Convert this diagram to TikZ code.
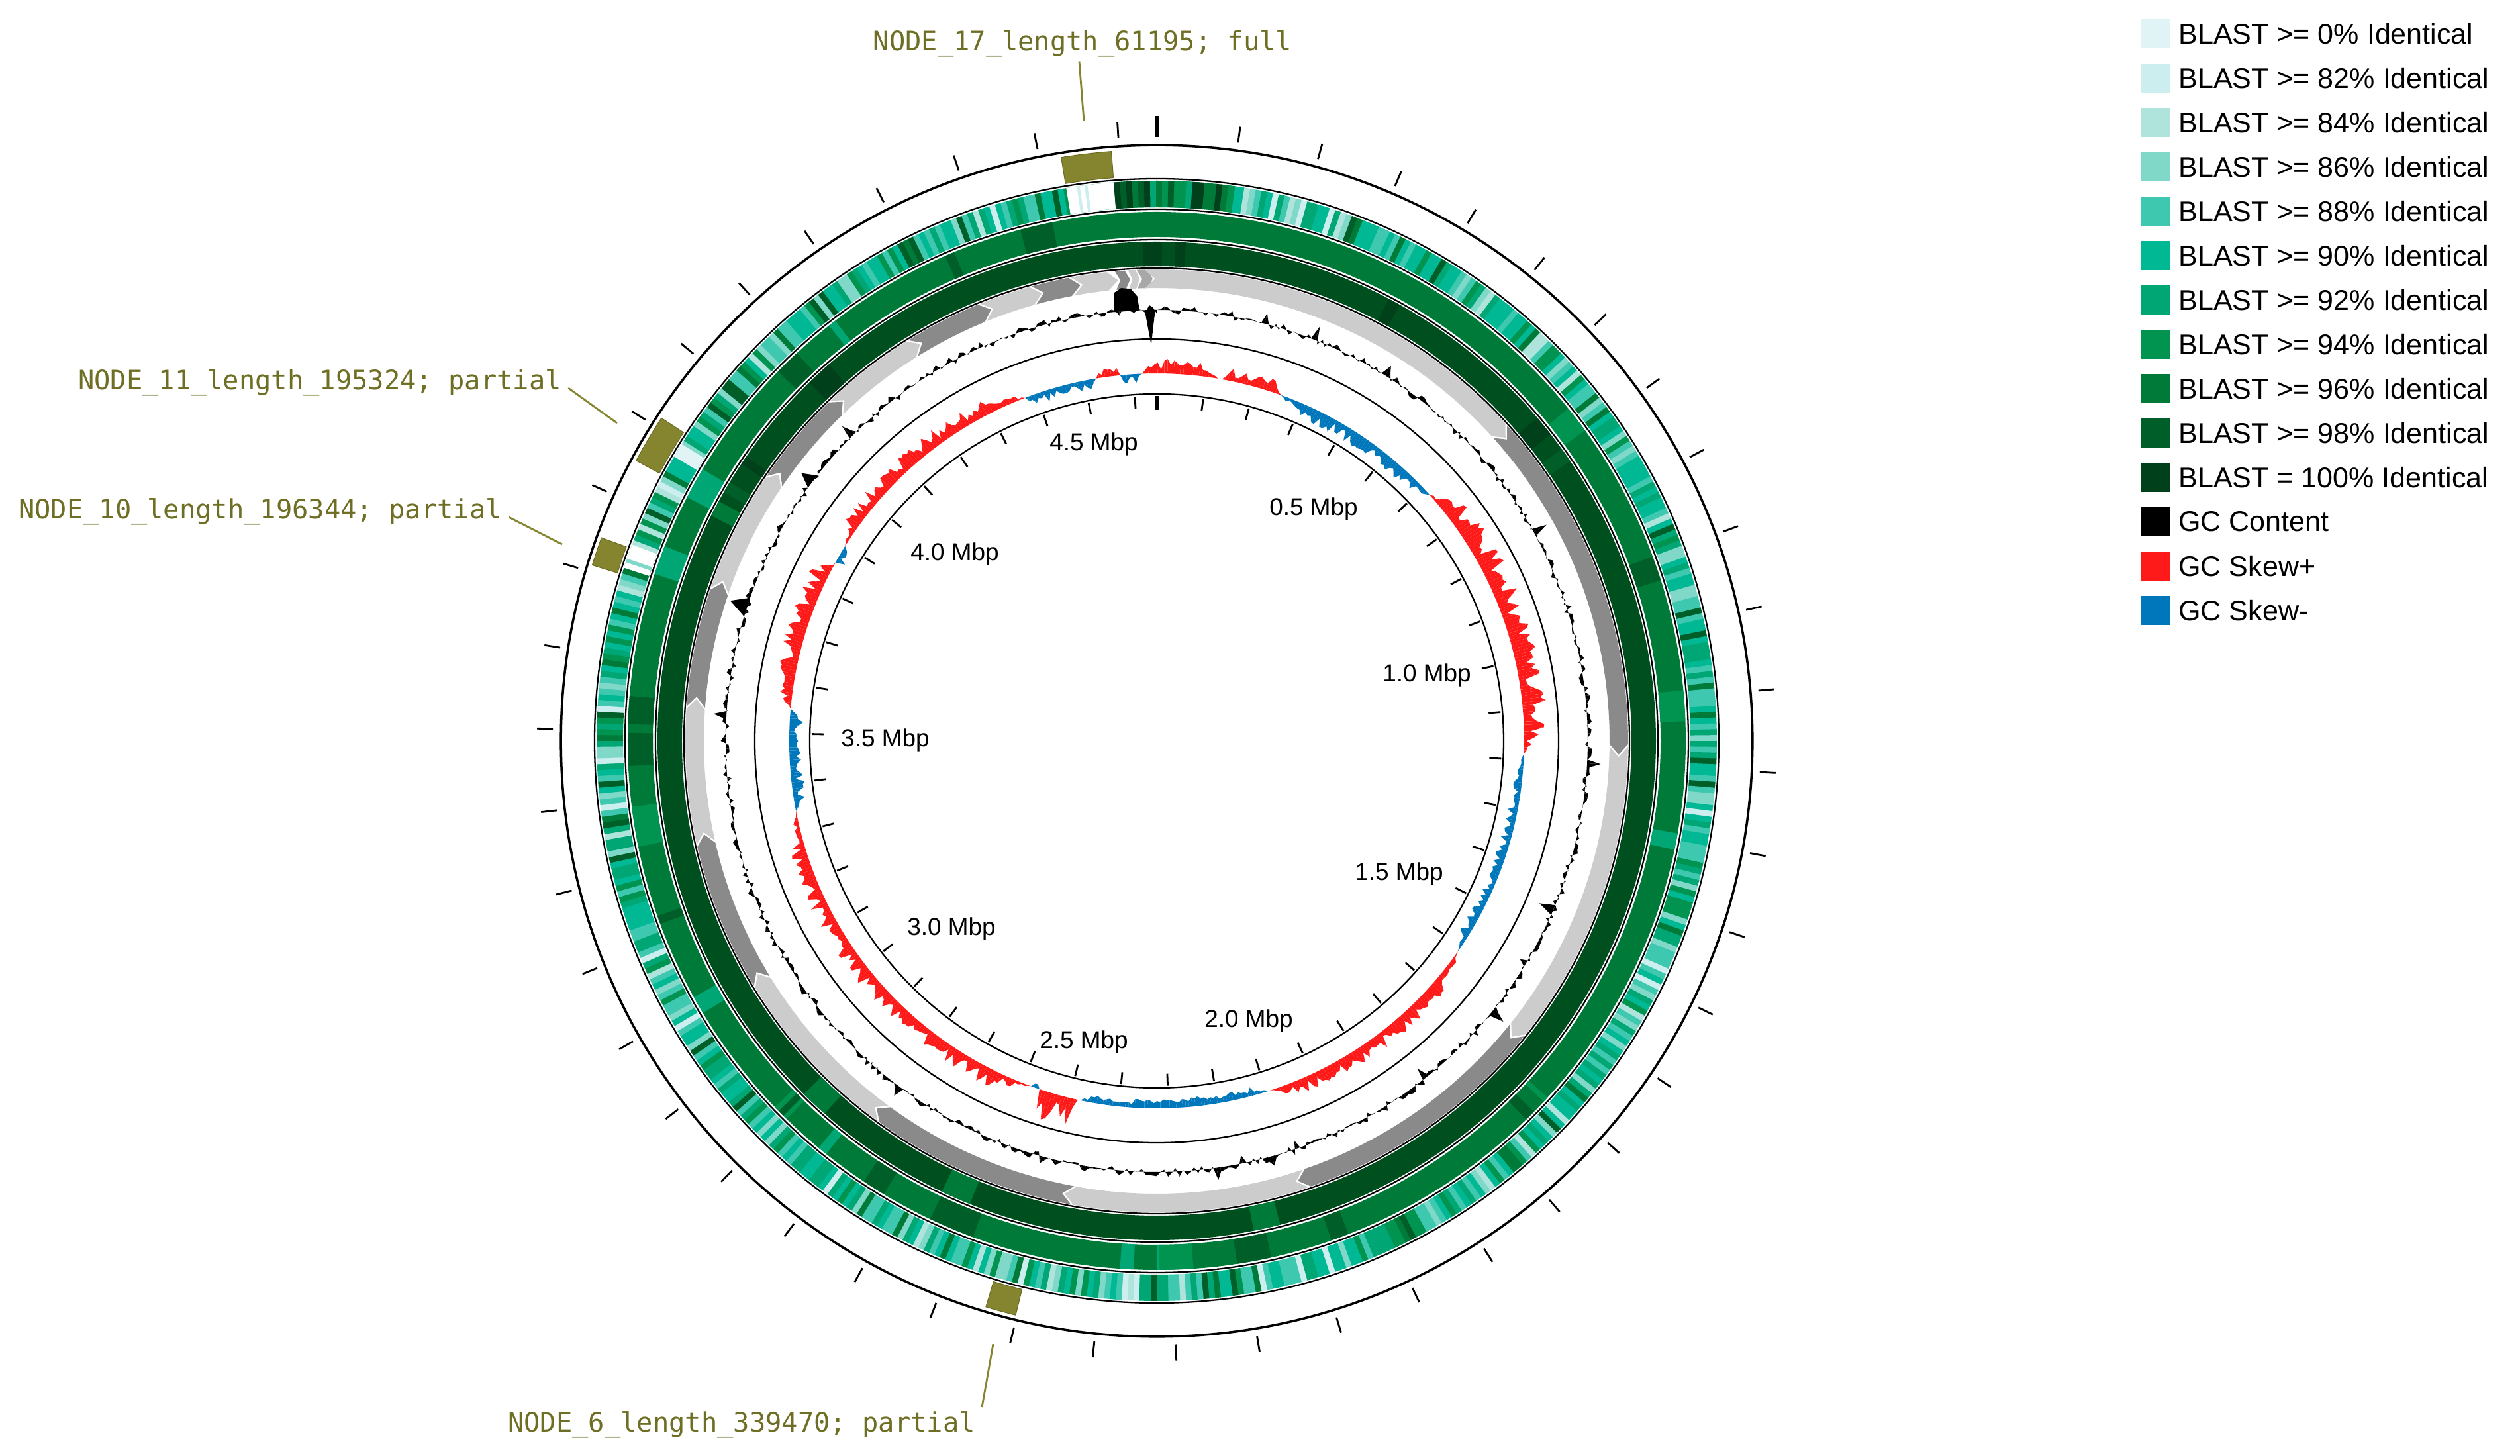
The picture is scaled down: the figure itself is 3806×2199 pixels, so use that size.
\documentclass[tikz,border=0pt]{standalone}
\usepackage{fontspec}
\setmainfont{Liberation Sans}
\newfontfamily\monof{DejaVu Sans Mono}
\definecolor{c0}{HTML}{E0F4F6}
\definecolor{c82}{HTML}{CDEEEE}
\definecolor{c84}{HTML}{AEE4DC}
\definecolor{c86}{HTML}{7FD8C8}
\definecolor{c88}{HTML}{3EC8B0}
\definecolor{c90}{HTML}{00B894}
\definecolor{c92}{HTML}{00A674}
\definecolor{c94}{HTML}{009450}
\definecolor{c96}{HTML}{007A38}
\definecolor{c98}{HTML}{005E28}
\definecolor{c100}{HTML}{00401A}
\definecolor{rthree}{HTML}{00501F}
\definecolor{skp}{HTML}{FF1A1A}
\definecolor{skm}{HTML}{0077BB}
\definecolor{olA}{HTML}{858530}
\definecolor{olB}{HTML}{6B6B22}
\definecolor{oltext}{HTML}{6E6E24}
\definecolor{glight}{HTML}{CCCCCC}
\definecolor{gdark}{HTML}{8A8A8A}
\definecolor{gmid}{HTML}{A8A8A8}
\newcommand\seg[5]{\path[#5] ({90-(#1)}:#4) arc[start angle={90-(#1)}, end angle={90-(#2)}, radius={#4*0.02cm}] -- ({90-(#2)}:#3) arc[start angle={90-(#2)}, end angle={90-(#1)}, radius={#3*0.02cm}] -- cycle;}
% gray arrow: clockwise from #1 to #2, tip at #2, notch at #1
\newcommand\garr[3]{%
 \pgfmathsetmacro\gtip{min(1.3,((#2)-(#1))*0.4)}%
 \pgfmathsetmacro\gsa{90-(#1)+\gtip-0.3}%
 \pgfmathsetmacro\gna{90-(#1)-0.3}%
 \pgfmathsetmacro\gea{90-(#2)+\gtip}%
 \pgfmathsetmacro\gpa{90-(#2)}%
 \fill[#3] (\gsa:712) arc[start angle=\gsa, end angle=\gea, radius=14.24cm] -- (\gpa:698) -- (\gea:684) arc[start angle=\gea, end angle=\gsa, radius=13.68cm] -- (\gna:698) -- cycle;}
\newcommand\gcskew[4]{%
 \pgfmathtruncatemacro\N{max(1,round(((#2)-(#1))*2))}%
 \xdef\pa{0}%
 \foreach \i in {1,...,\N}{%
  \pgfmathsetmacro\ta{#1+(\i-1)*((#2)-(#1))/\N}%
  \pgfmathsetmacro\tb{#1+\i*((#2)-(#1))/\N}%
  \pgfmathsetmacro\na{(\i==\N)?0:(#3)*(0.25+0.75*rnd)*min(1,3*sin(180/\N*\i))}%
  \pgfmathsetmacro\ra{555+\pa}\pgfmathsetmacro\rb{555+\na}%
  \pgfmathsetmacro\aa{90-\ta}\pgfmathsetmacro\ab{90-\tb}%
  \fill[#4] (\aa:555) -- (\aa:\ra) -- (\ab:\rb) -- (\ab:555) -- cycle;%
  \xdef\pa{\na}}}
\pgfmathdeclarerandomlist{ringone}{{c90}{c90}{c90}{c90}{c88}{c88}{c88}{c92}{c92}{c92}{c86}{c86}{c94}{c94}{c84}{c96}{c98}{c82}{c90}{c88}}
\pgfmathdeclarerandomlist{ringdark}{{c96}{c98}{c94}{c100}{c92}{c96}}
\pgfmathdeclarerandomlist{ringtwo}{{c94}{c98}{c98}{c92}}
\pgfmathdeclarerandomlist{ringthree}{{c98}{c96}{c100}}
\tikzset{
 circ/.style={draw=black, line width=1.3pt},
 tickmark/.style={draw=black, line width=1.6pt},
 mbp/.style={font=\fontsize{21}{24}\selectfont, inner sep=0pt},
 nodelab/.style={font=\monof\fontsize{23}{26}\selectfont, text=oltext, inner sep=0pt},
 oline/.style={draw=olA, line width=1.6pt},
 obox/.style={fill=olA, draw=olB, line width=0.6pt},
 legtext/.style={font=\fontsize{24.5}{28}\selectfont, anchor=west, inner sep=0pt},
}
\newcommand\ring[1]{\draw[circ] (0,0) circle[radius={#1*0.02cm}];}
\begin{document}
\begin{tikzpicture}[x=0.02cm,y=0.02cm]
\useasboundingbox (-1747,-1080) rectangle (2059,1119);
\pgfmathsetseed{7}
% BLAST ring 1
\foreach \i in {0,...,599}{%
 \pgfmathsetmacro\ta{\i*0.6}\pgfmathsetmacro\tb{\ta+0.65}%
 \pgfmathrandomitem{\cc}{ringone}%
 \seg{\ta}{\tb}{806}{846}{fill=\cc}}
\seg{-9.3}{-4.4}{806}{846}{fill=white}
\seg{-8.2}{-7.9}{806}{846}{fill=c82}
\seg{-7.4}{-7.1}{806}{846}{fill=c82}
\foreach \i in {0,...,19}{%
 \pgfmathsetmacro\ta{-4.4+\i*0.62}\pgfmathsetmacro\tb{\ta+0.66}%
 \pgfmathrandomitem{\cc}{ringdark}%
 \seg{\ta}{\tb}{806}{846}{fill=\cc}}
\seg{288}{290.5}{806}{846}{fill=white}
\seg{288.6}{289}{806}{846}{fill=c86}
\seg{300.5}{302}{806}{846}{fill=c0}
% BLAST ring 2
\seg{0}{360}{761}{799}{fill=c96}
\foreach \i in {1,...,30}{%
 \pgfmathsetmacro\ta{rnd*360}\pgfmathsetmacro\tb{\ta+0.5+rnd*4}%
 \pgfmathrandomitem{\cc}{ringtwo}%
 \seg{\ta}{\tb}{761}{799}{fill=\cc}}
% BLAST ring 3
\seg{0}{360}{717}{754}{fill=rthree}
\foreach \i in {1,...,12}{%
 \pgfmathsetmacro\ta{rnd*360}\pgfmathsetmacro\tb{\ta+0.5+rnd*3}%
 \pgfmathrandomitem{\cc}{ringthree}%
 \seg{\ta}{\tb}{717}{754}{fill=\cc}}
% outlines
\ring{849}\ring{803}\ring{757}\ring{714}\ring{607}\ring{524}
\draw[draw=black, line width=2pt] (0,0) circle[radius=18cm];
% gray feature ring
\garr{-2.1}{-0.5}{gmid}
\garr{-0.5}{49}{glight}
\garr{49}{91.7}{gdark}
\garr{91.7}{129.8}{glight}
\garr{129.8}{162.2}{gdark}
\garr{162.2}{191.5}{glight}
\garr{191.5}{217.3}{gdark}
\garr{217.3}{239.7}{glight}
\garr{239.7}{258.3}{gdark}
\garr{258.3}{275.2}{glight}
\garr{275.2}{290}{gdark}
\garr{290}{305.2}{glight}
\garr{305.2}{317.2}{gdark}
\garr{317.2}{329.2}{glight}
\garr{329.2}{339}{gdark}
\garr{339}{345.6}{glight}
\garr{345.6}{350.5}{gdark}
\garr{350.5}{355.2}{glight}
\garr{355.2}{356.7}{gdark}
\garr{356.7}{357.9}{glight}
% GC content
\xdef\pa{0}
\foreach \i in {0,...,719}{%
 \pgfmathsetmacro\ta{\i*0.5}\pgfmathsetmacro\tb{\ta+0.5}%
 \pgfmathsetmacro\u{rnd}%
 \pgfmathsetmacro\na{(rnd-0.45)*14*((\u<0.06)?3:1)}%
 \pgfmathsetmacro\ra{651+\pa}\pgfmathsetmacro\rb{651+\na}%
 \pgfmathsetmacro\aa{90-\ta}\pgfmathsetmacro\ab{90-\tb}%
 \fill[black] (\aa:651) -- (\aa:\ra) -- (\ab:\rb) -- (\ab:651) -- cycle;%
 \xdef\pa{\na}}
\fill[black] (95.7:651) -- (95.4:680) -- (94.5:686) -- (93.3:684) -- (92.5:672) -- (92.3:651) -- cycle;
\fill[black] (91.6:651) -- (90.8:598) -- (90.2:651) -- cycle;
\fill[black] (-22.4:651) -- (-23:628) -- (-23.8:651) -- cycle;
\fill[black] (163.2:651) -- (161.8:678) -- (160.6:651) -- cycle;
\fill[black] (144:651) -- (143:672) -- (142:651) -- cycle;
% GC skew
\gcskew{-9.5}{-5.7}{16}{skp}
\gcskew{-5.7}{-2.3}{-14}{skm}
\gcskew{-2.3}{9.6}{22}{skp}
\gcskew{10.2}{19.8}{20}{skp}
\gcskew{19.8}{48}{-22}{skm}
\gcskew{48}{92}{36}{skp}
\gcskew{92}{125}{-16}{skm}
\gcskew{125}{162}{24}{skp}
\gcskew{162}{192.4}{-15}{skm}
\gcskew{192.4}{198.6}{44}{skp}
\gcskew{198.6}{200}{-10}{skm}
\gcskew{200}{259}{26}{skp}
\gcskew{259}{275}{-22}{skm}
\gcskew{275}{299}{30}{skp}
\gcskew{299}{302}{-16}{skm}
\gcskew{302}{339}{25}{skp}
\gcskew{339}{350.5}{-18}{skm}
% ticks
\foreach \k in {1,...,46}{%
 \pgfmathsetmacro\ang{90-\k*7.747}%
 \draw[tickmark] (\ang:912) -- (\ang:936);
 \draw[tickmark] (\ang:521) -- (\ang:503);}
\draw[draw=black, line width=3pt] (90:912) -- (90:944);
\draw[draw=black, line width=3pt] (90:521) -- (90:500);
% Mbp labels
\node[mbp] (m45) at (-95,448) {4.5 Mbp};
\node[mbp] (m05) at (237,350) {0.5 Mbp};
\node[mbp] (m10) at (408,99) {1.0 Mbp};
\node[mbp] (m15) at (366,-201) {1.5 Mbp};
\node[mbp] (m20) at (139,-423) {2.0 Mbp};
\node[mbp] (m25) at (-110,-455) {2.5 Mbp};
\node[mbp] (m30) at (-310,-284) {3.0 Mbp};
\node[mbp] (m35) at (-410,1) {3.5 Mbp};
\node[mbp] (m40) at (-305,282) {4.0 Mbp};
% contig boxes
\seg{-9.3}{-4.4}{853}{893}{obox}
\seg{298.3}{303.1}{853}{893}{obox}
\seg{287.3}{290.1}{853}{893}{obox}
\seg{193.8}{196.8}{853}{893}{obox}
\node[nodelab] (n17) at (-112,1053) {NODE\_17\_length\_61195; full};
\node[nodelab] (n11) at (-1264,541) {NODE\_11\_length\_195324; partial};
\node[nodelab] (n10) at (-1354,346) {NODE\_10\_length\_196344; partial};
\node[nodelab] (n6) at (-627,-1033) {NODE\_6\_length\_339470; partial};
\coordinate (b17) at (-110,936);
\coordinate (b11) at (-815,480);
\coordinate (b10) at (-898,297);
\coordinate (b6) at (-247,-911);
\draw[oline] (n17.south) ++(-5,-6) -- (b17);
\draw[oline] (n11.east) ++(10,-8) -- (b11);
\draw[oline] (n10.east) ++(10,-8) -- (b10);
\draw[oline] (n6.east) ++(10,27) -- (b6);
% legend
\foreach \c/\t [count=\k from 0] in {c0/BLAST >= 0\% Identical, c82/BLAST >= 82\% Identical, c84/BLAST >= 84\% Identical, c86/BLAST >= 86\% Identical, c88/BLAST >= 88\% Identical, c90/BLAST >= 90\% Identical, c92/BLAST >= 92\% Identical, c94/BLAST >= 94\% Identical, c96/BLAST >= 96\% Identical, c98/BLAST >= 98\% Identical, c100/BLAST = 100\% Identical, black/GC Content, skp/GC Skew+, skm/GC Skew-}{%
 \pgfmathsetmacro\yy{1068-67*\k}%
 \fill[\c] (1486,\yy-22) rectangle (1530,\yy+22);
 \node[legtext] (leg\k) at (1543,\yy) {\t};}
\end{tikzpicture}
\end{document}
